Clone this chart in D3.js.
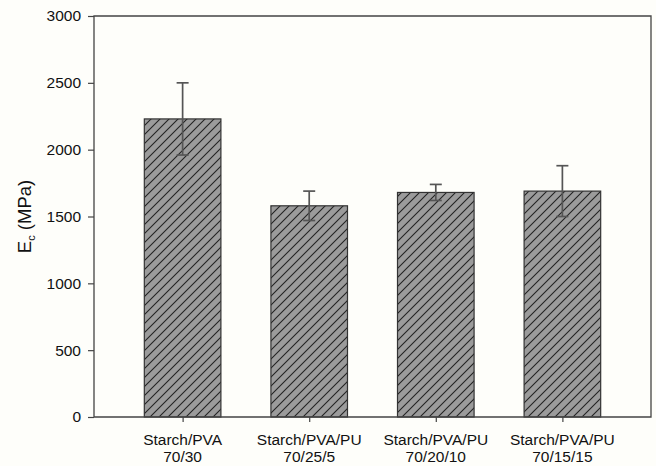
<!DOCTYPE html>
<html>
<head>
<meta charset="utf-8">
<script src="https://cdn.jsdelivr.net/npm/d3@7"></script>
<style>
  html, body { margin: 0; padding: 0; background: #fefefa; }
  svg { display: block; font-family: "Liberation Sans", Arial, sans-serif; }
</style>
</head>
<body>
<svg id="chart" width="656" height="466"></svg>
<script>
// Compressive modulus of starch blends
const groups = ["Starch/PVA", "Starch/PVA/PU", "Starch/PVA/PU", "Starch/PVA/PU"];
const ratios = ["70/30", "70/25/5", "70/20/10", "70/15/15"];
const modulus = [2230, 1580, 1680, 1690];
const errLow = [1960, 1470, 1620, 1500];
const errHigh = [2500, 1690, 1740, 1880];
const yTicks = [0, 500, 1000, 1500, 2000, 2500, 3000];

const svg = d3.select("#chart");
const plotLeft = 94, plotRight = 651, plotTop = 16, plotBottom = 417;

const x = d3.scalePoint().domain(d3.range(modulus.length)).range([plotLeft, plotRight]).padding(0.7);
const y = d3.scaleLinear().domain([0, 3000]).range([plotBottom, plotTop]);
const barW = x.step() * 0.605;

// diagonal hatch fill, lines rising to the right
const hs = 9;
const defs = svg.append("defs");
const pat = defs.append("pattern")
  .attr("id", "hatch")
  .attr("patternUnits", "userSpaceOnUse")
  .attr("width", hs).attr("height", hs);
pat.append("rect").attr("width", hs).attr("height", hs).attr("fill", "#9b9b9b");
pat.append("path")
  .attr("d", `M0,${hs}L${hs},0M${-hs / 2},${hs / 2}L${hs / 2},${-hs / 2}M${hs / 2},${hs * 1.5}L${hs * 1.5},${hs / 2}`)
  .attr("stroke", "#222").attr("stroke-width", 1.1);

// bars
svg.append("g").selectAll("rect").data(modulus).join("rect")
  .attr("x", (d, i) => x(i) - barW / 2)
  .attr("width", barW)
  .attr("y", d => y(d))
  .attr("height", d => y(0) - y(d))
  .attr("fill", "url(#hatch)")
  .attr("stroke", "#333")
  .attr("stroke-width", 1.2);

// error bars
const eb = svg.append("g").attr("stroke", "#555").attr("stroke-width", 1.7);
modulus.forEach((d, i) => {
  const cx = x(i);
  eb.append("line").attr("x1", cx).attr("x2", cx).attr("y1", y(errLow[i])).attr("y2", y(errHigh[i]));
  eb.append("line").attr("x1", cx - 6).attr("x2", cx + 6).attr("y1", y(errHigh[i])).attr("y2", y(errHigh[i]));
  eb.append("line").attr("x1", cx - 6).attr("x2", cx + 6).attr("y1", y(errLow[i])).attr("y2", y(errLow[i]));
});

// frame
svg.append("path")
  .attr("d", `M${plotLeft},${plotBottom}V${plotTop}H${plotRight}V${plotBottom}Z`)
  .attr("fill", "none").attr("stroke", "#444").attr("stroke-width", 1.3);

// y axis
const yAxis = svg.append("g").attr("transform", `translate(${plotLeft},0)`)
  .call(d3.axisLeft(y).tickValues(yTicks).tickSize(6).tickPadding(7).tickFormat(d3.format("d")));
yAxis.select(".domain").remove();
yAxis.selectAll(".tick line").attr("stroke", "#444").attr("stroke-width", 1.2);
yAxis.selectAll(".tick text").attr("font-size", 15.5).attr("fill", "#111")
  .attr("font-family", "Liberation Sans, Arial, sans-serif");

// x axis
const xAxis = svg.append("g").attr("transform", `translate(0,${plotBottom})`)
  .call(d3.axisBottom(x).tickSize(5).tickFormat(""));
xAxis.select(".domain").remove();
xAxis.selectAll(".tick line").attr("stroke", "#444").attr("stroke-width", 1.2);

const xl = svg.append("g").attr("font-size", 15.5).attr("fill", "#111").attr("text-anchor", "middle");
groups.forEach((g, i) => {
  const t = xl.append("text").attr("x", x(i)).attr("y", 445);
  t.append("tspan").attr("x", x(i)).text(g);
  t.append("tspan").attr("x", x(i)).attr("dy", 17).text(ratios[i]);
});

// y axis title
const yt = svg.append("text")
  .attr("transform", `translate(31,${(plotTop + plotBottom) / 2}) rotate(-90)`)
  .attr("text-anchor", "middle").attr("font-size", 18.5).attr("fill", "#111");
yt.append("tspan").text("E");
yt.append("tspan").attr("font-size", 11).attr("dy", 4).text("c");
yt.append("tspan").attr("dy", -4).text(" (MPa)");
</script>
</body>
</html>
